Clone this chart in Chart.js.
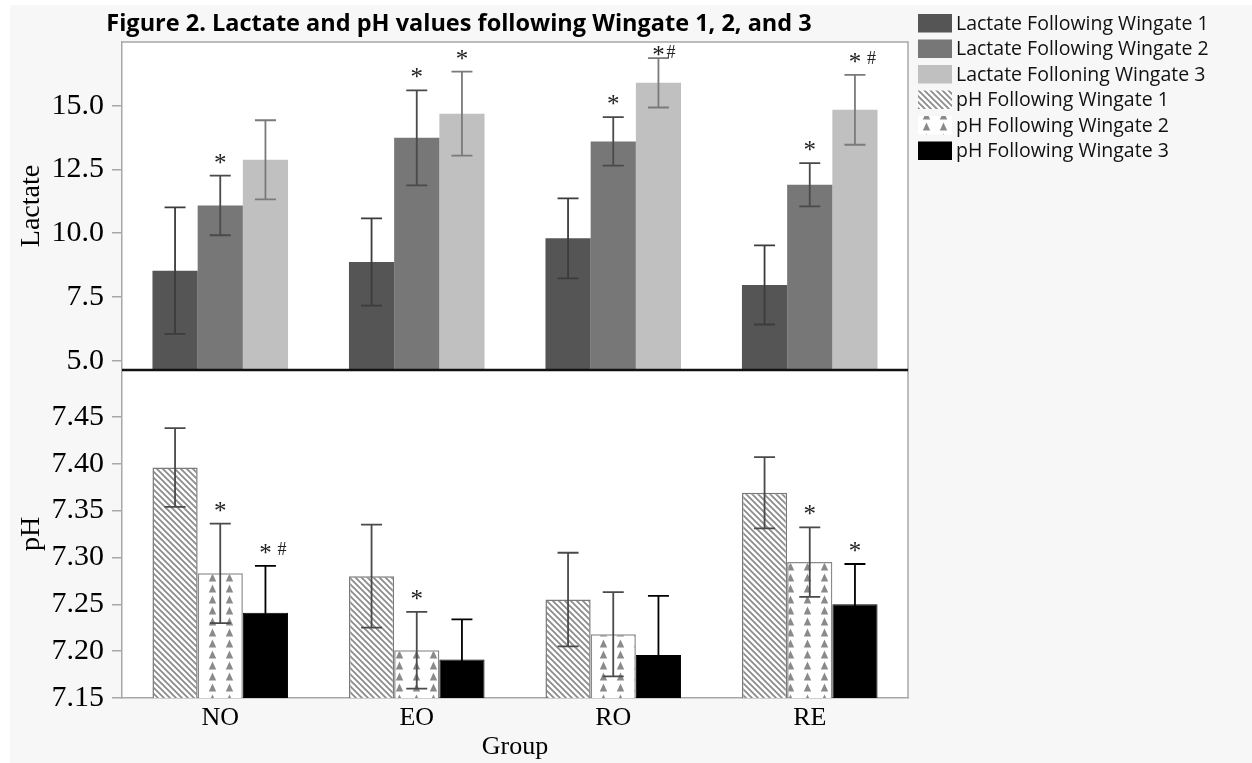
<!DOCTYPE html>
<html>
<head>
<meta charset="utf-8">
<script src="https://cdn.jsdelivr.net/npm/chart.js@4.4.1/dist/chart.umd.min.js"></script>
<style>
  html, body { margin: 0; padding: 0; background: #fff; }
  #wrap { width: 1252px; height: 763px; }
</style>
</head>
<body>
<div id="wrap"><canvas id="chart" width="1252" height="763"></canvas></div>
<script>
const groups = ["NO", "EO", "RO", "RE"];

// lactate (mean, sd)
const lac1 = [8.53, 8.87, 9.80, 7.97];
const lac1Err = [2.48, 1.71, 1.57, 1.55];
const lac2 = [11.09, 13.74, 13.60, 11.90];
const lac2Err = [1.17, 1.86, 0.95, 0.85];
const lac3 = [12.88, 14.69, 15.90, 14.84];
const lac3Err = [1.55, 1.65, 0.97, 1.37];

// pH (mean, sd)
const ph1 = [7.396, 7.280, 7.255, 7.369];
const ph1Err = [0.042, 0.055, 0.050, 0.038];
const ph2 = [7.283, 7.201, 7.218, 7.295];
const ph2Err = [0.053, 0.041, 0.045, 0.037];
const ph3 = [7.241, 7.191, 7.196, 7.250];
const ph3Err = [0.050, 0.043, 0.063, 0.043];

// significance marks
const lac1Marks = ["", "", "", ""];
const lac2Marks = ["*", "*", "*", "*"];
const lac3Marks = ["", "*", "*#", "* #"];
const ph1Marks = ["", "", "", ""];
const ph2Marks = ["*", "*", "", "*"];
const ph3Marks = ["* #", "", "", "*"];

const lacTicks = [5.0, 7.5, 10.0, 12.5, 15.0];
const phTicks = [7.15, 7.20, 7.25, 7.30, 7.35, 7.40, 7.45];

const serif = "'Liberation Serif', 'Times New Roman', serif";
const sans = "'Open Sans', 'Noto Sans', sans-serif";

function stripePattern() {
    const c = document.createElement("canvas");
    c.width = 6; c.height = 6;
    const g = c.getContext("2d");
    g.fillStyle = "#fff";
    g.fillRect(0, 0, 6, 6);
    g.strokeStyle = "#8c8c8c";
    g.lineWidth = 1.8;
    g.beginPath();
    g.moveTo(-1, -1); g.lineTo(7, 7);
    g.moveTo(-4, 2); g.lineTo(4, 10);
    g.moveTo(2, -4); g.lineTo(10, 4);
    g.stroke();
    return g.createPattern(c, "repeat");
}

function trianglePattern() {
    const c = document.createElement("canvas");
    c.width = 17; c.height = 11;
    const g = c.getContext("2d");
    g.fillStyle = "#fff";
    g.fillRect(0, 0, 17, 11);
    g.fillStyle = "#8a8a8a";
    g.beginPath();
    g.moveTo(8.5, 1.5); g.lineTo(12.2, 9.5); g.lineTo(4.8, 9.5);
    g.closePath();
    g.fill();
    return g.createPattern(c, "repeat");
}

const ctx = document.getElementById("chart");

const decor = {
    id: "decor",
    beforeDraw(chart) {
        const { ctx, width, height, chartArea: a } = chart;
        ctx.save();
        ctx.fillStyle = "#fff";
        ctx.fillRect(0, 0, width, height);
        ctx.fillStyle = "#f7f7f7";
        ctx.fillRect(10, 5, width - 10, height - 5);
        ctx.fillStyle = "#fff";
        ctx.fillRect(a.left, a.top, a.right - a.left, a.bottom - a.top);
        ctx.restore();
    },
    afterDatasetsDraw(chart) {
        const { ctx, chartArea: a } = chart;
        chart.data.datasets.forEach((ds, i) => {
            const meta = chart.getDatasetMeta(i);
            const ys = chart.scales[ds.yAxisID];

            // ERROR BARS (kept inside their own panel)
            ctx.save();
            ctx.beginPath();
            ctx.rect(a.left, ys.top - 1, a.right - a.left, ys.bottom - ys.top + 1);
            ctx.clip();
            meta.data.forEach((bar, j) => {
                const hi = ys.getPixelForValue(ds.data[j] + ds.err[j]);
                const lo = ys.getPixelForValue(ds.data[j] - ds.err[j]);
                ctx.strokeStyle = ds.errColor;
                ctx.lineWidth = 1.8;
                ctx.beginPath();
                ctx.moveTo(bar.x, hi); ctx.lineTo(bar.x, lo);
                ctx.moveTo(bar.x - 10.5, hi); ctx.lineTo(bar.x + 10.5, hi);
                ctx.moveTo(bar.x - 10.5, lo); ctx.lineTo(bar.x + 10.5, lo);
                ctx.stroke();
            });
            ctx.restore();

            // STARS
            ctx.save();
            meta.data.forEach((bar, j) => {
                const m = ds.marks[j];
                if (!m) return;
                const hi = ys.getPixelForValue(ds.data[j] + ds.err[j]);
                const base = Math.max(hi - 5, a.top + 21);
                ctx.fillStyle = "#222";
                ctx.textBaseline = "alphabetic";
                ctx.font = "25px " + serif;
                ctx.textAlign = "center";
                ctx.fillText("*", bar.x, base);
                if (m.includes("#")) {
                    const gap = m.includes(" ") ? 12 : 8;
                    ctx.font = "18px " + serif;
                    ctx.textAlign = "left";
                    ctx.fillText("#", bar.x + gap, base - 5.5);
                }
            });
            ctx.restore();
        });
    },
    afterDraw(chart) {
        const { ctx, chartArea: a, scales } = chart;
        ctx.save();
        // plot frame top / right
        ctx.strokeStyle = "#a8a8a8";
        ctx.lineWidth = 1.5;
        ctx.beginPath();
        ctx.moveTo(a.left, a.top); ctx.lineTo(a.right, a.top); ctx.lineTo(a.right, a.bottom);
        ctx.stroke();
        // divider between the two panels
        const yDiv = scales.yLac.bottom;
        ctx.strokeStyle = "#111";
        ctx.lineWidth = 2.5;
        ctx.beginPath();
        ctx.moveTo(a.left, yDiv); ctx.lineTo(a.right, yDiv);
        ctx.stroke();

        // LEGEND
        ctx.font = "19.5px " + sans;
        ctx.textBaseline = "middle";
        ctx.textAlign = "left";
        chart.data.datasets.forEach((ds, i) => {
            const y = 14 + i * 25.5;
            ctx.fillStyle = ds.backgroundColor;
            ctx.fillRect(918, y, 34, 18.5);
            ctx.fillStyle = "#111";
            ctx.fillText(ds.label, 956, y + 10);
        });
        ctx.restore();
    }
};

const stripes = stripePattern();
const triangles = trianglePattern();

new Chart(ctx, {
    type: "bar",
    data: {
        labels: groups,
        datasets: [
            { label: "Lactate Following Wingate 1", data: lac1, err: lac1Err, marks: lac1Marks, yAxisID: "yLac", stack: "w1",
              backgroundColor: "#555555", borderWidth: 0, errColor: "#3c3c3c" },
            { label: "Lactate Following Wingate 2", data: lac2, err: lac2Err, marks: lac2Marks, yAxisID: "yLac", stack: "w2",
              backgroundColor: "#777777", borderWidth: 0, errColor: "#4a4a4a" },
            { label: "Lactate Folloning Wingate 3", data: lac3, err: lac3Err, marks: lac3Marks, yAxisID: "yLac", stack: "w3",
              backgroundColor: "#c0c0c0", borderWidth: 0, errColor: "#7a7a7a" },
            { label: "pH Following Wingate 1", data: ph1, err: ph1Err, marks: ph1Marks, yAxisID: "yPh", stack: "w1",
              backgroundColor: stripes, borderColor: "#7a7a7a", borderWidth: 1.5, errColor: "#4a4a4a" },
            { label: "pH Following Wingate 2", data: ph2, err: ph2Err, marks: ph2Marks, yAxisID: "yPh", stack: "w2",
              backgroundColor: triangles, borderColor: "#8a8a8a", borderWidth: 1.5, errColor: "#4a4a4a" },
            { label: "pH Following Wingate 3", data: ph3, err: ph3Err, marks: ph3Marks, yAxisID: "yPh", stack: "w3",
              backgroundColor: "#000000", borderColor: "#000000", borderWidth: 1, errColor: "#000000" }
        ]
    },
    options: {
        responsive: false,
        animation: false,
        devicePixelRatio: 1,
        layout: { padding: { left: 10, right: 344, top: 5, bottom: 0 } },
        datasets: { bar: { categoryPercentage: 0.69, barPercentage: 1.0 } },
        plugins: {
            legend: { display: false },
            tooltip: { enabled: false },
            title: {
                display: true,
                text: "Figure 2. Lactate and pH values following Wingate 1, 2, and 3",
                color: "#000",
                font: { family: sans, size: 23.5, weight: "bold" },
                padding: { top: 5, bottom: 3.8 }
            }
        },
        scales: {
            x: {
                grid: { display: true, drawOnChartArea: false, drawTicks: false },
                border: { color: "#a8a8a8", width: 1.5 },
                ticks: { color: "#000", padding: 5, font: { family: serif, size: 26 } },
                title: { display: true, text: "Group", color: "#000", font: { family: serif, size: 26 }, padding: { top: 0, bottom: 0 } },
                afterFit(s) { s.height = 65; }
            },
            yPh: {
                type: "linear",
                stack: "panels",
                stackWeight: 1,
                stacked: false,
                min: 7.15,
                max: 7.5,
                grid: { drawOnChartArea: false, tickLength: 10, color: "#a8a8a8", lineWidth: 1.5 },
                border: { color: "#a8a8a8", width: 1.5 },
                afterBuildTicks(s) { s.ticks = phTicks.map(v => ({ value: v })); },
                ticks: { color: "#000", padding: 8, autoSkip: false, font: { family: serif, size: 30 }, callback: v => v.toFixed(2) },
                title: { display: true, text: "pH", color: "#000", font: { family: serif, size: 28 }, padding: { top: 5, bottom: 0 } },
                afterFit(s) { s.width = 112; }
            },
            yLac: {
                type: "linear",
                stack: "panels",
                stackWeight: 1,
                stacked: false,
                min: 4.635,
                max: 17.5,
                grid: { drawOnChartArea: false, tickLength: 10, color: "#a8a8a8", lineWidth: 1.5 },
                border: { color: "#a8a8a8", width: 1.5 },
                afterBuildTicks(s) { s.ticks = lacTicks.map(v => ({ value: v })); },
                ticks: { color: "#000", padding: 8, autoSkip: false, font: { family: serif, size: 30 }, callback: v => v.toFixed(1) },
                title: { display: true, text: "Lactate", color: "#000", font: { family: serif, size: 28 }, padding: { top: 5, bottom: 0 } },
                afterFit(s) { s.width = 112; }
            }
        }
    },
    plugins: [decor]
});
</script>
</body>
</html>
